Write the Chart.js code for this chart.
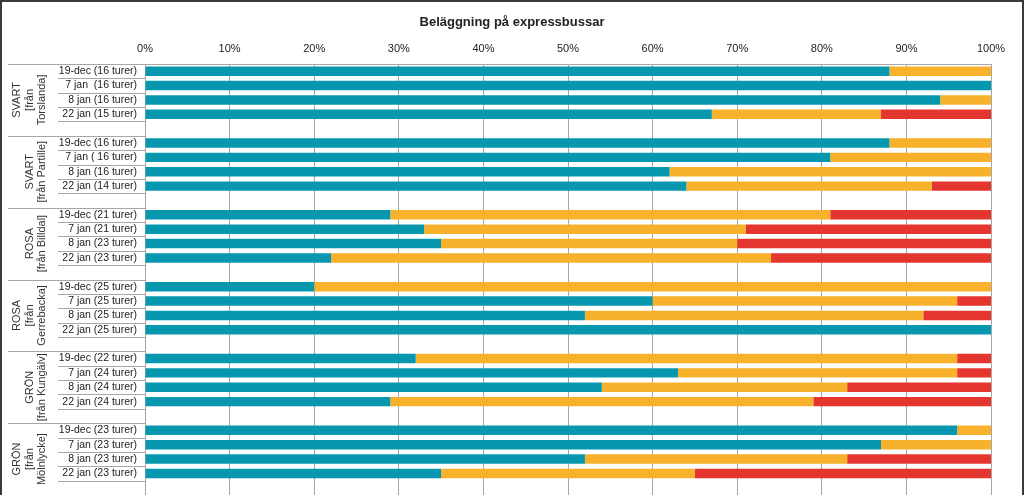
<!DOCTYPE html>
<html>
<head>
<meta charset="utf-8">
<script src="https://cdn.jsdelivr.net/npm/chart.js@4/dist/chart.umd.min.js"></script>
<style>
  html, body { margin: 0; padding: 0; background: #fff; overflow: hidden; }
  canvas { display: block; }
</style>
</head>
<body>
<canvas id="graf" width="1024" height="495"></canvas>
<script>
// Linjer (grupper), visas roterade till vänster
const grupper = [
  ['SVART', '[från', 'Torslanda]'],
  ['SVART', '[från Partille]'],
  ['ROSA', '[från Billdal]'],
  ['ROSA', '[från', 'Gerrebacka]'],
  ['GRÖN', '[från Kungälv]'],
  ['GRÖN', '[från', 'Mölnlycke]']
];

// Datum per grupp (4 st per grupp)
const datum = [
  '19-dec (16 turer)', '7 jan  (16 turer)', '8 jan (16 turer)', '22 jan (15 turer)',
  '19-dec (16 turer)', '7 jan ( 16 turer)', '8 jan (16 turer)', '22 jan (14 turer)',
  '19-dec (21 turer)', '7 jan (21 turer)', '8 jan (23 turer)', '22 jan (23 turer)',
  '19-dec (25 turer)', '7 jan (25 turer)', '8 jan (25 turer)', '22 jan (25 turer)',
  '19-dec (22 turer)', '7 jan (24 turer)', '8 jan (24 turer)', '22 jan (24 turer)',
  '19-dec (23 turer)', '7 jan (23 turer)', '8 jan (23 turer)', '22 jan (23 turer)'
];

// Andelar i procent
const sittplats = [88, 100, 94, 67,  88, 81, 62, 64,  29, 33, 35, 22,  20, 60, 52, 100,  32, 63, 54, 29,  96, 87, 52, 35];
const staplats  = [12,   0,  6, 20,  12, 19, 38, 29,  52, 38, 35, 52,  80, 36, 40,   0,  64, 33, 29, 50,   4, 13, 31, 30];
const fullt     = [ 0,   0,  0, 13,   0,  0,  0,  7,  19, 29, 30, 26,   0,  4,  8,   0,   4,  4, 17, 21,   0,  0, 17, 35];

const xTicks = [0, 10, 20, 30, 40, 50, 60, 70, 80, 90, 100];

// Bygg 5 platser per grupp: 4 staplar + en tom rad
function medLucka(arr, tom) {
  const ut = [];
  for (let g = 0; g < grupper.length; g++) {
    for (let i = 0; i < 4; i++) ut.push(arr[g * 4 + i]);
    ut.push(tom);
  }
  return ut;
}

const etiketter = medLucka(datum, '');
const GRID = '#A6A6A6';
const FONT = '"Liberation Sans", Arial, sans-serif';

const ramPlugin = {
  id: 'ram',
  afterDraw(chart) {
    const ctx = chart.ctx;
    const y = chart.scales.y;
    const slot = (y.bottom - y.top) / etiketter.length;
    ctx.save();
    ctx.strokeStyle = GRID;
    ctx.lineWidth = 1;
    for (let i = 0; i <= etiketter.length; i++) {
      const py = Math.round(y.top + i * slot) + 0.5;
      const x0 = (i % 5 === 0) ? 8 : 58;
      ctx.beginPath();
      ctx.moveTo(x0, py);
      ctx.lineTo(y.right, py);
      ctx.stroke();
    }
    // Grupptexter
    ctx.fillStyle = '#333';
    ctx.font = '11px ' + FONT;
    ctx.textAlign = 'center';
    ctx.textBaseline = 'middle';
    grupper.forEach((rader, g) => {
      const cy = y.top + (g * 5 + 2.5) * slot;
      const n = rader.length;
      rader.forEach((txt, i) => {
        const x = 42 - (n - 1 - i) * 12.5;
        ctx.save();
        ctx.translate(x, cy);
        ctx.rotate(-Math.PI / 2);
        ctx.fillText(txt, 0, 0);
        ctx.restore();
      });
    });
    // Ram runt bilden
    ctx.fillStyle = '#3a3a3a';
    ctx.fillRect(0, 0, chart.width, 2);
    ctx.fillRect(0, 0, 2, chart.height);
    ctx.fillRect(chart.width - 2, 0, 2, chart.height);
    ctx.restore();
  }
};

const graf = document.getElementById('graf');
new Chart(graf, {
  type: 'bar',
  data: {
    labels: etiketter,
    datasets: [
      { label: 'Sittplats', data: medLucka(sittplats, null), backgroundColor: '#0798B0' },
      { label: 'Ståplats', data: medLucka(staplats, null), backgroundColor: '#F7B12B' },
      { label: 'Fullt', data: medLucka(fullt, null), backgroundColor: '#E5352F' }
    ]
  },
  plugins: [ramPlugin],
  options: {
    indexAxis: 'y',
    responsive: false,
    animation: false,
    layout: { padding: 0 },
    datasets: { bar: { barPercentage: 1, categoryPercentage: 0.66 } },
    plugins: {
      legend: { display: false },
      tooltip: { enabled: false },
      title: {
        display: true,
        text: 'Beläggning på expressbussar',
        color: '#222',
        font: { family: FONT, size: 13, weight: 'bold', lineHeight: 1.2 },
        padding: { top: 15, bottom: 0 }
      }
    },
    scales: {
      x: {
        position: 'top',
        stacked: true,
        min: 0,
        max: 100,
        afterBuildTicks(scale) { scale.ticks = xTicks.map(v => ({ value: v })); },
        afterFit(scale) {
          scale.height = 33.4;
          scale.paddingLeft = 0;
          scale.paddingRight = 33;
        },
        ticks: {
          padding: 8,
          color: '#222',
          font: { family: FONT, size: 11 },
          callback: v => v + '%'
        },
        grid: { color: GRID, drawTicks: false },
        border: { color: GRID }
      },
      y: {
        stacked: true,
        afterFit(scale) {
          scale.width = 145;
          scale.paddingTop = 0;
          scale.paddingBottom = 0;
        },
        ticks: {
          padding: 8,
          color: '#222',
          autoSkip: false,
          font: { family: FONT, size: 10.5 }
        },
        grid: { display: false, drawTicks: false },
        border: { color: GRID }
      }
    }
  }
});
</script>
</body>
</html>
